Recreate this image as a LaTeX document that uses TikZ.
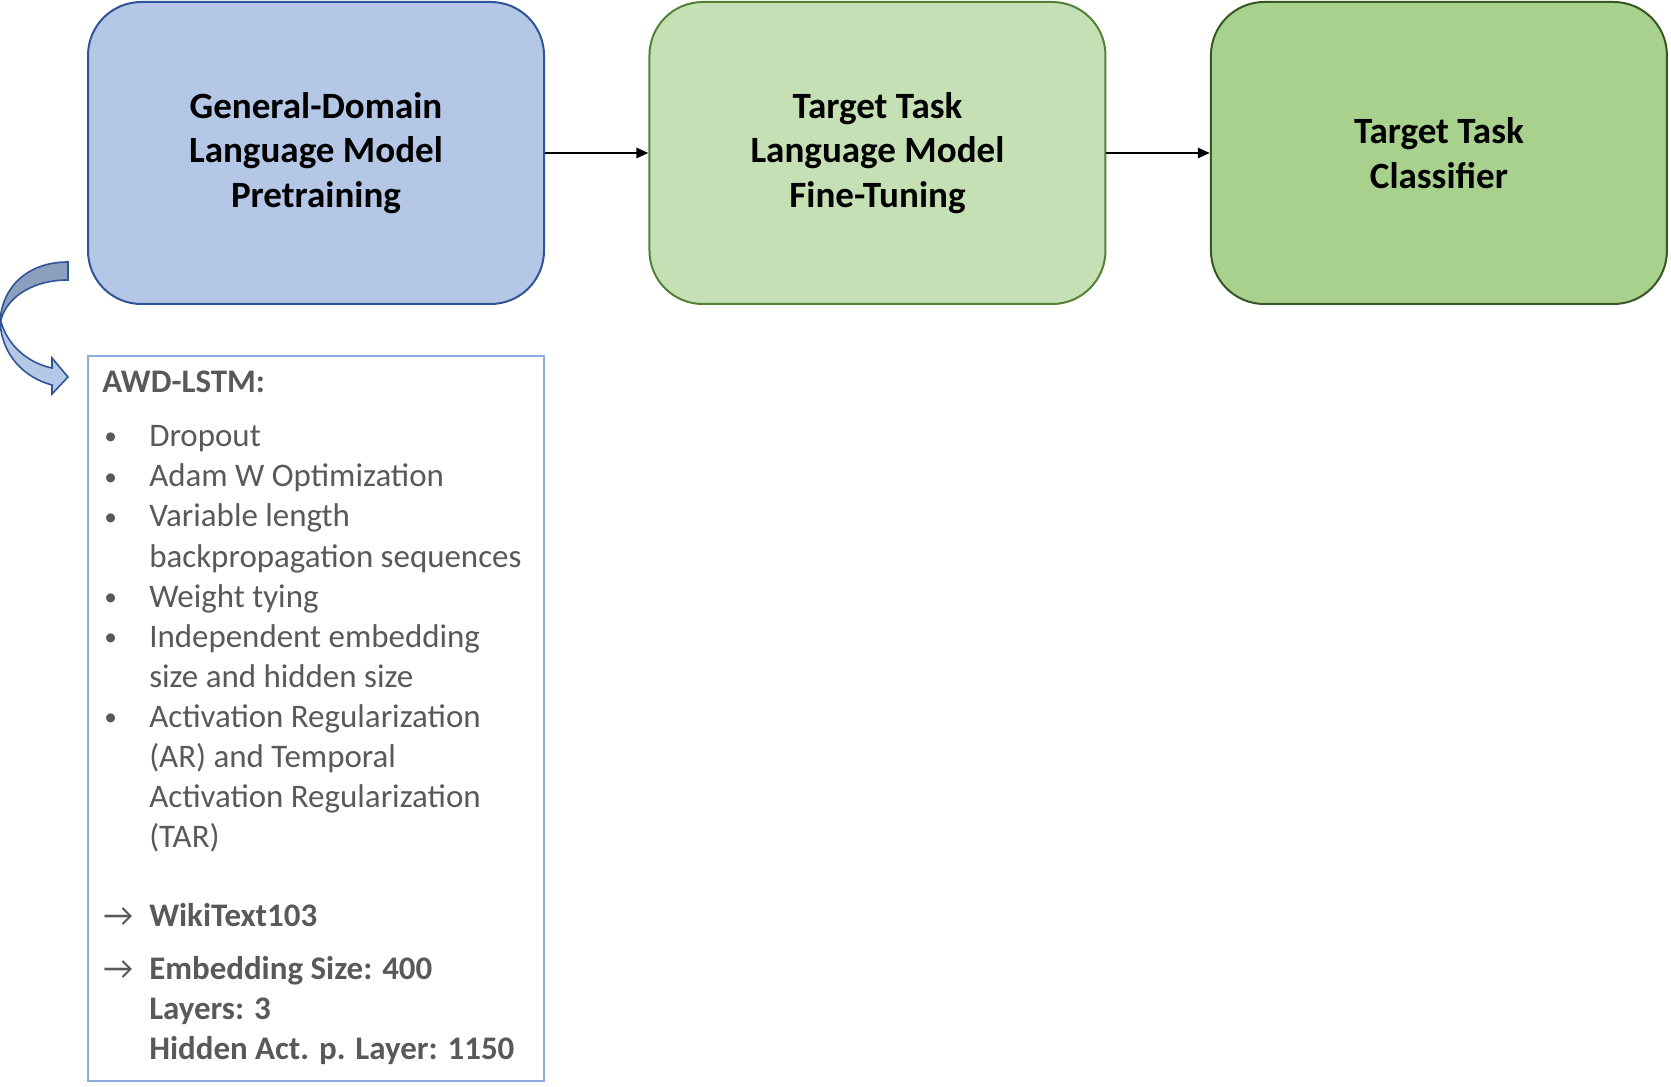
\documentclass[tikz,border=0pt]{standalone}
\usepackage{fontspec}
\setmainfont{Carlito}
\usetikzlibrary{positioning,arrows.meta}

\definecolor{prefill}{HTML}{B4C7E7}
\definecolor{predraw}{HTML}{2F5597}
\definecolor{tunefill}{HTML}{C5E0B4}
\definecolor{tunedraw}{HTML}{548235}
\definecolor{clsfill}{HTML}{A9D18E}
\definecolor{clsdraw}{HTML}{385723}
\definecolor{paneldraw}{HTML}{8FAADC}
\definecolor{backfill}{HTML}{8D9FBF}
\definecolor{itemgray}{HTML}{595959}

\newcommand\stagefont{\fontsize{27.8}{33.5}\selectfont\bfseries}
\newcommand\itemfont{\fontsize{24.7}{30}\selectfont}

\tikzset{
    stage/.style={draw, line width=1.5pt, rounded corners=40pt, minimum width=342pt,
        minimum height=226.5pt, align=center, font=\stagefont},
    panelbox/.style={draw=paneldraw, line width=1.5pt, minimum width=342pt, minimum height=543.75pt},
    itemtxt/.style={anchor=base west, inner sep=0pt, text=itemgray, font=\itemfont},
    headtxt/.style={itemtxt, font=\itemfont\bfseries},
    flow/.style={-{Triangle[length=9pt,width=7.5pt]}, line width=2pt}
}

\begin{document}
\begin{tikzpicture}[x=0.75pt,y=-0.75pt]
    \useasboundingbox (0,0) rectangle (1671,1087);

    % Stages
    \node [stage, fill=prefill, draw=predraw] (pre) at (316,153) {General-Domain\\Language Model\\Pretraining};
    \node [stage, fill=tunefill, draw=tunedraw, right=77.6pt of pre] (tune) {Target Task\\Language Model\\Fine-Tuning};
    \node [stage, fill=clsfill, draw=clsdraw, right=77.6pt of tune] (cls) {Target Task\\Classifier};

    \draw [flow] (pre) -- (tune);
    \draw [flow] (tune) -- (cls);

    % Panel with details
    \node [panelbox, below=37.5pt of pre] (awd) {};

    % Curved arrow
    \draw [predraw, fill=backfill, line width=1.2pt] (68,262) .. controls (25,262) and (0,290) .. (0,325)
        .. controls (3,300) and (30,280) .. (68,280) -- cycle;
    \draw [predraw, fill=prefill, line width=1.2pt] (0,318) .. controls (0,355) and (25,378) .. (52,385)
        -- (52,394) -- (68,377) -- (52,358) -- (52,368) .. controls (28,363) and (6,345) .. (0,318) -- cycle;

    \node [headtxt] (head) at (102,393) {AWD-LSTM:};

    \foreach \y/\t [count=\i] in {447/Dropout, 487/Adam W Optimization, 527/Variable length,
        567/backpropagation sequences, 607/Weight tying, 647/Independent embedding,
        687/size and hidden size, 727/Activation Regularization, 767/(AR) and Temporal,
        807/Activation Regularization, 847/(TAR)}
        \node [itemtxt] (item\i) at (149,\y) {\t};

    \foreach \y [count=\i] in {447,487,527,607,647,727}
        \node [itemtxt, font=\fontsize{19}{24}\selectfont] (dot\i) at (104,\y-2) {•};

    \foreach \y [count=\i] in {926,979}
        \node [itemtxt] (arr\i) at (103,\y) {→};

    \node [headtxt] (wiki) at (149,926) {WikiText103};
    \node [headtxt] (emb) at (149,979) {Embedding Size: 400};
    \node [headtxt] (lay) at (149,1019) {Layers: 3};
    \node [headtxt] (hid) at (149,1059) {Hidden Act. p. Layer: 1150};

\end{tikzpicture}
\end{document}
